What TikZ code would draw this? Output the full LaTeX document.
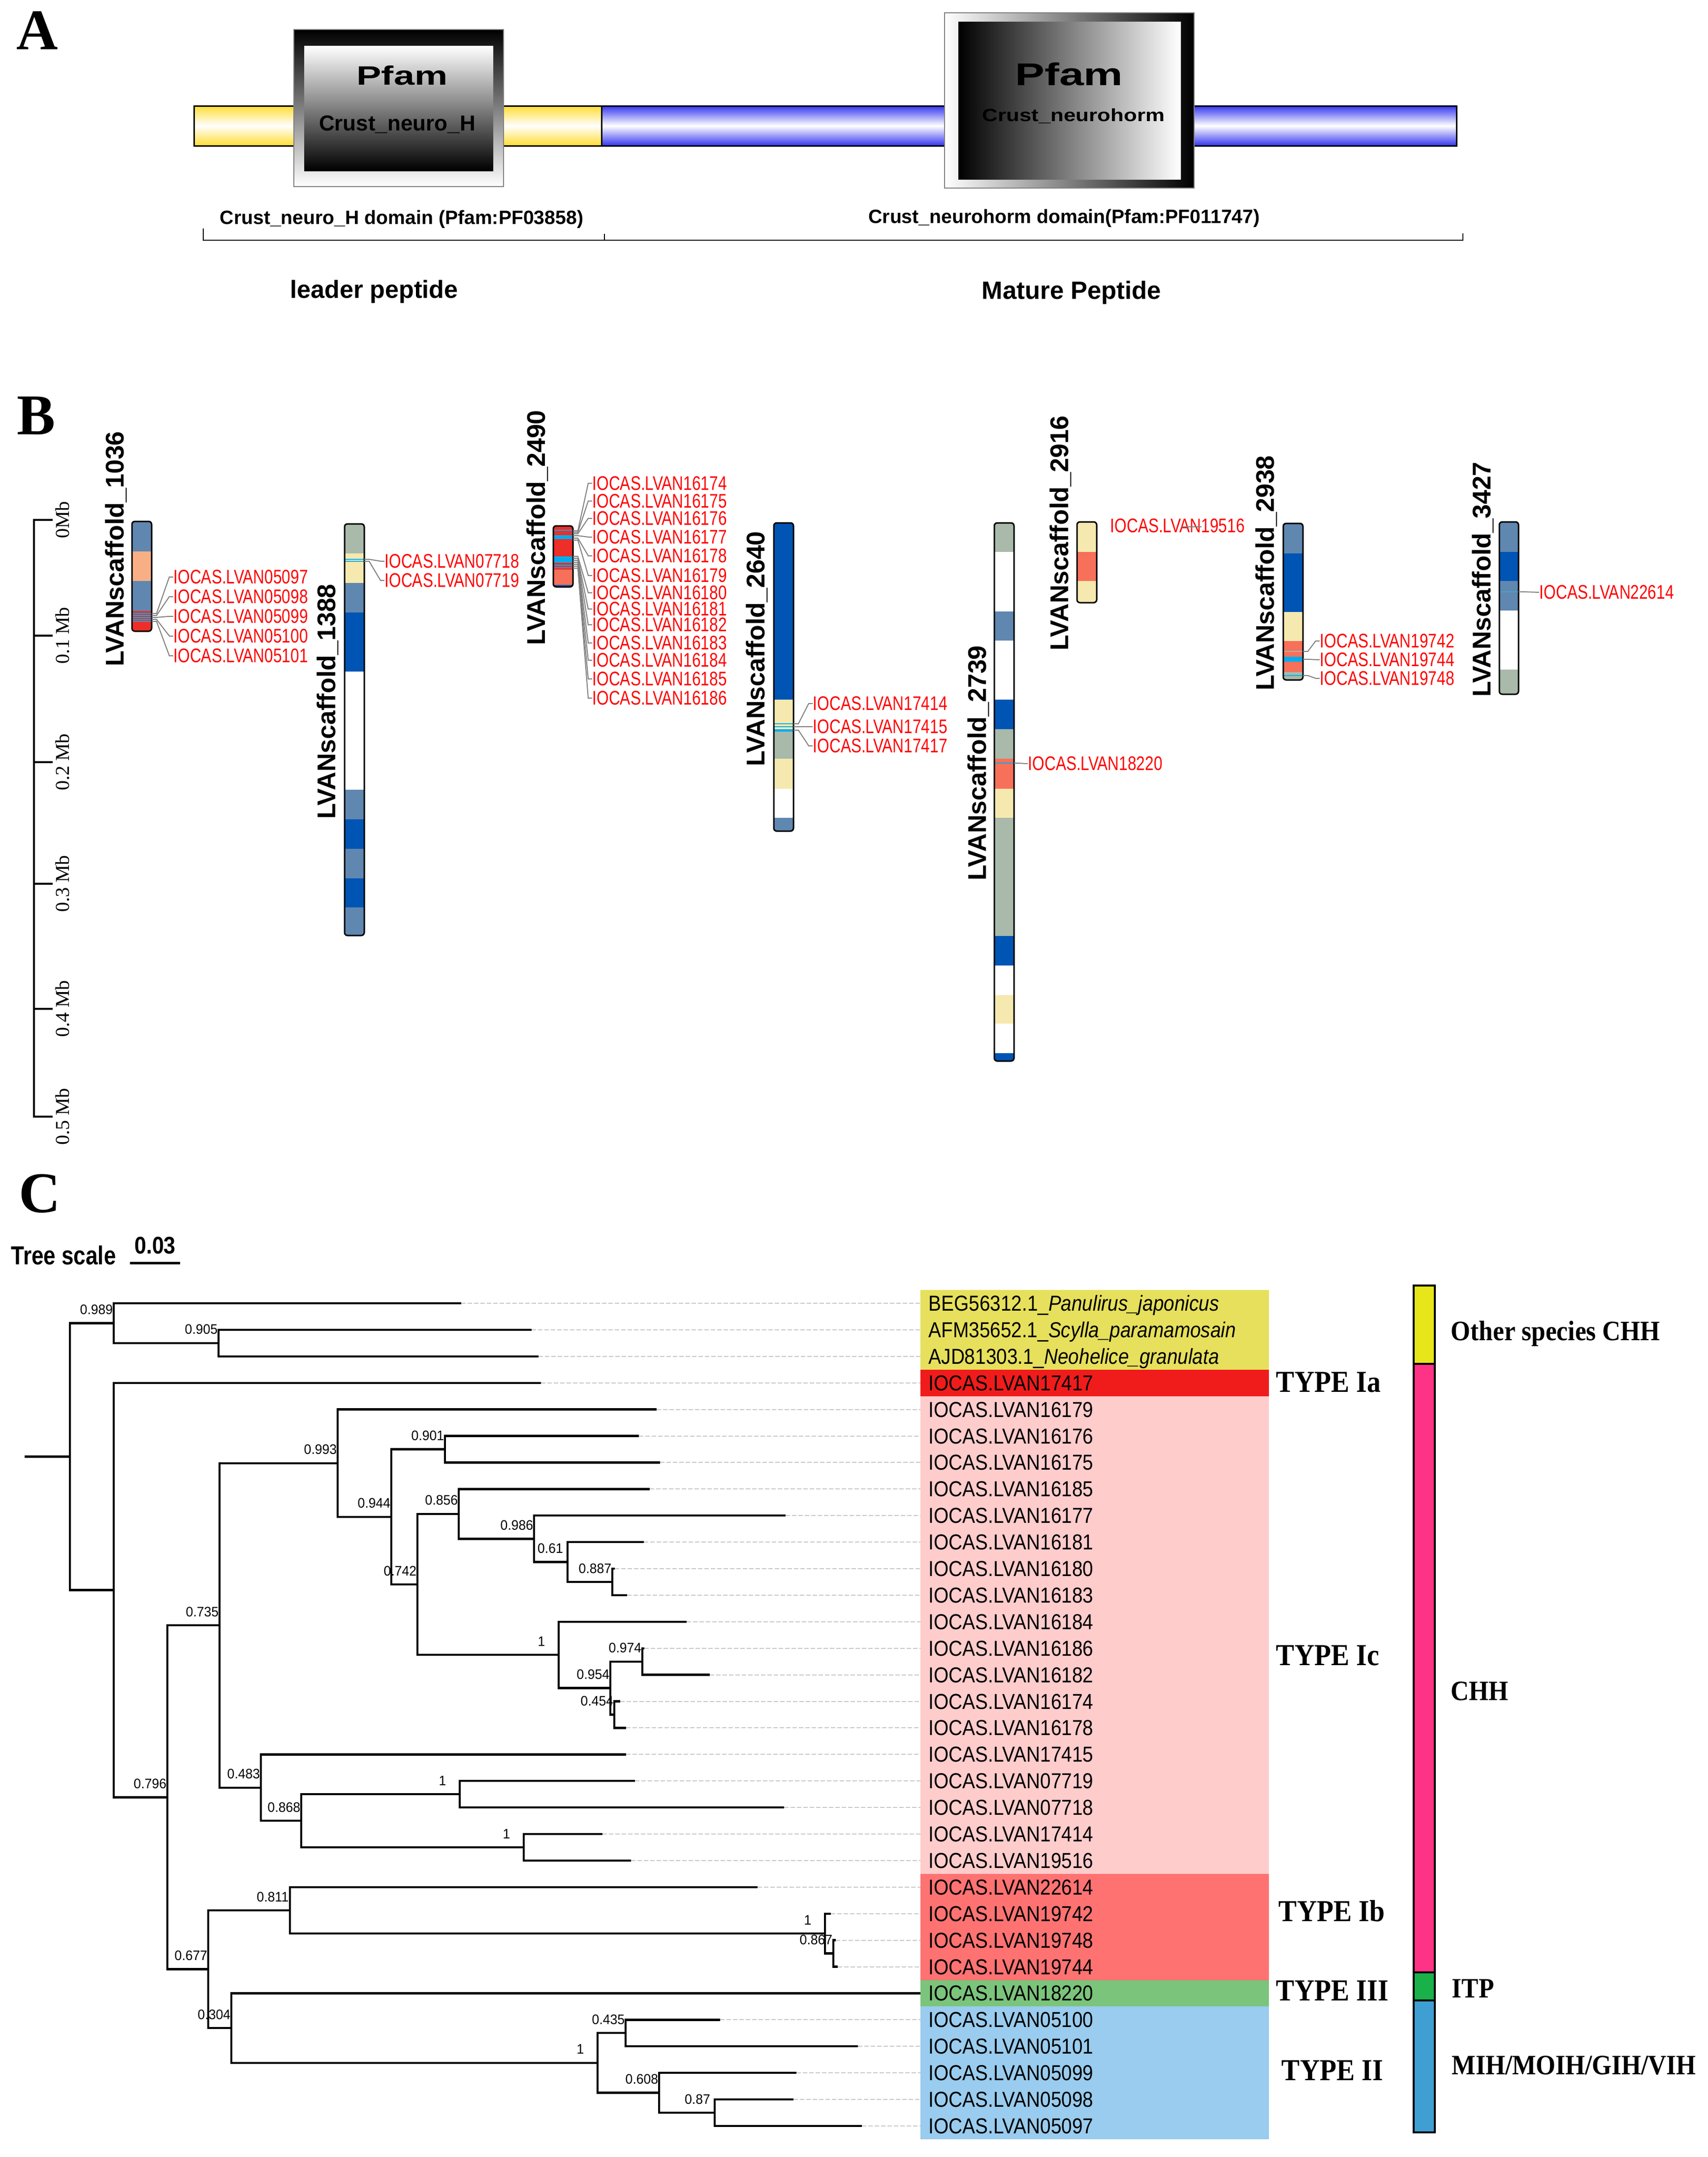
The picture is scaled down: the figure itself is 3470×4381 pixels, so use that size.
\documentclass[tikz,border=0pt]{standalone}
\usepackage{fontspec}
\setmainfont{Liberation Serif}
\newfontfamily\fA{Liberation Sans}
\newfontfamily\fAn[FakeStretch=0.79]{Liberation Sans}
\newfontfamily\fAc[FakeStretch=0.88]{Liberation Sans}
\newfontfamily\fAt[FakeStretch=0.83]{Liberation Sans}
\newfontfamily\fAb[FakeStretch=0.95]{Liberation Sans}
\newfontfamily\fAw[FakeStretch=1.4]{Liberation Sans}
\newfontfamily\fAm[FakeStretch=1.22]{Liberation Sans}
\newfontfamily\fTn[FakeStretch=0.9]{Liberation Serif}
\usetikzlibrary{calc}
\definecolor{steel}{HTML}{5F87B0}
\definecolor{dblue}{HTML}{0055B4}
\definecolor{ggreen}{HTML}{A9B9AA}
\definecolor{pyel}{HTML}{F5E9B0}
\definecolor{lsalm}{HTML}{F9AF86}
\definecolor{bred}{HTML}{EE2E28}
\definecolor{salm}{HTML}{F7705A}
\definecolor{cyel}{HTML}{E6E05C}
\definecolor{cred}{HTML}{F01C1C}
\definecolor{cpink}{HTML}{FFCCCC}
\definecolor{csalm}{HTML}{FF7272}
\definecolor{cgreen}{HTML}{7BC47B}
\definecolor{cblue}{HTML}{99CCEE}
\definecolor{byel}{HTML}{E6E619}
\definecolor{bmag}{HTML}{FF3385}
\definecolor{bgreen}{HTML}{1AB04A}
\definecolor{bblue}{HTML}{3F9FD3}
\definecolor{ayel}{HTML}{FFDD33}
\definecolor{ablue}{HTML}{3535F0}
\definecolor{dashgray}{HTML}{C8C8C8}
\tikzset{
  lettr/.style={anchor=base west,inner sep=0pt,font=\bfseries\fontsize{29.25pt}{30pt}\selectfont},
  redlab/.style={anchor=base west,inner sep=0pt,text=red,font=\fAn\fontsize{10pt}{12pt}\selectfont},
  sctitle/.style={rotate=90,inner sep=0pt,font=\fA\bfseries\fontsize{13pt}{15pt}\selectfont},
  axlab/.style={rotate=90,inner sep=0pt,font=\fontsize{10pt}{12pt}\selectfont},
  conn/.style={draw=gray,line width=0.5pt},
  barout/.style={draw=black,line width=0.75pt,rounded corners=1.5pt},
  br/.style={draw=black,line width=1.1pt,line join=miter},
  dsh/.style={draw=dashgray,line width=0.5pt,dash pattern=on 2.25pt off 1pt},
  bs/.style={anchor=base,inner sep=0pt,font=\fAb\fontsize{7pt}{8pt}\selectfont},
  leaf/.style={anchor=base west,inner sep=0pt,font=\fAc\fontsize{11pt}{13pt}\selectfont},
  typel/.style={anchor=base west,inner sep=0pt,font=\fTn\bfseries\fontsize{15.5pt}{17pt}\selectfont},
  grpl/.style={anchor=base west,inner sep=0pt,font=\fTn\bfseries\fontsize{14.25pt}{16pt}\selectfont},
  segbox/.style={draw=black,line width=1pt}
}
\newcommand\scafbar[5]{%
  \begin{scope}
  \clip[rounded corners=1.5pt] (#1,#3) rectangle (#2,#4);
  \fill[white] (#1,#3) rectangle (#2,#4);
  \foreach \ya/\yb/\cc in {#5} {\fill[fill=\cc] (#1,\ya) rectangle (#2,\yb);}
  \end{scope}}
\newcommand\gline[4]{\fill[fill=cyan] (#1,#3) rectangle (#2,#4);}
\newcommand\gene[5]{%
  \coordinate (g#1) at (#2,#3);
  \node[redlab] (l#1) at (#4,#5+14.5) {IOCAS.LVAN#1};
  \draw[conn] (g#1) -- ++(10,0) -- ($(l#1.west)+(-8,0)$) -- (l#1.west);}
\begin{document}
\begin{tikzpicture}[x=0.25pt,y=-0.25pt]
\useasboundingbox (0,0) rectangle (3470,4381);
% ================= Panel A =================
\node[lettr] (LA) at (33,100) {A};
\draw[line width=0.75pt,top color=ayel,bottom color=ayel,middle color=white] (394,215) rectangle (1222,296);
\draw[line width=0.75pt,top color=ablue,bottom color=ablue,middle color=white] (1222,215) rectangle (2959,296);
% Pfam box 1
\draw[draw=gray,line width=0.4pt,top color=black,bottom color=white] (597,60) rectangle (1023,379);
\shade[top color=white,bottom color=black] (618,93) rectangle (1002,347);
\node[anchor=base,inner sep=0pt,font=\fAw\bfseries\fontsize{13.5pt}{15pt}\selectfont] (pf1) at (817,172) {Pfam};
\node[anchor=base,inner sep=0pt,font=\fA\bfseries\fontsize{11pt}{13pt}\selectfont] (cn1) at (807,265) {Crust\_neuro\_H};
% Pfam box 2
\draw[draw=gray,line width=0.4pt,left color=white,right color=black] (1919,26) rectangle (2426,382);
\shade[left color=black,right color=white] (1947,44) rectangle (2399,364);
\node[anchor=base,inner sep=0pt,font=\fAw\bfseries\fontsize{16pt}{18pt}\selectfont] (pf2) at (2172,173) {Pfam};
\node[anchor=base,inner sep=0pt,font=\fAm\bfseries\fontsize{9pt}{11pt}\selectfont] (cn2) at (2181,246) {Crust\_neurohorm};
% domain texts
\node[anchor=base,inner sep=0pt,font=\fA\bfseries\fontsize{9.8pt}{12pt}\selectfont] (d1) at (816,455) {Crust\_neuro\_H domain (Pfam:PF03858)};
\node[anchor=base,inner sep=0pt,font=\fA\bfseries\fontsize{9.8pt}{12pt}\selectfont] (d2) at (2162,453) {Crust\_neurohorm domain(Pfam:PF011747)};
% bracket
\coordinate (bk1) at (413,464); \coordinate (bk2) at (413,488);
\coordinate (bk3) at (2972,488); \coordinate (bk4) at (2972,474);
\coordinate (bk5) at (1228,475); \coordinate (bk6) at (1228,488);
\draw[line width=0.7pt] (bk1) -- (bk2) -- (bk3) -- (bk4);
\draw[line width=0.5pt] (bk5) -- (bk6);
\node[anchor=base,inner sep=0pt,font=\fA\bfseries\fontsize{12.6pt}{14pt}\selectfont] (lp) at (760,605) {leader peptide};
\node[anchor=base,inner sep=0pt,font=\fA\bfseries\fontsize{12.7pt}{14pt}\selectfont] (mp) at (2177,607) {Mature Peptide};
% ================= Panel B =================
\node[lettr] (LB) at (34,882) {B};
% scale axis
\draw[line width=1pt] (69,1056) -- (69,2268);
\foreach \ty/\tl in {1056/0Mb,1291/0.1 Mb,1548/0.2 Mb,1795/0.3 Mb,2049/0.4 Mb,2268/0.5 Mb}{
  \draw[line width=1pt] (67,\ty) -- (107,\ty);
  \node[axlab] at (127,\ty) {\tl};
}
% scaffold bars
\scafbar{268}{308}{1059}{1282}{1059/1120/steel,1120/1180/lsalm,1180/1241/steel,1241/1282/bred}
\gline{268}{308}{1245.3}{1246.7}\gline{268}{308}{1249.3}{1250.7}\gline{268}{308}{1253.3}{1254.7}\gline{268}{308}{1257.3}{1258.7}\gline{268}{308}{1261.3}{1262.7}
\draw[barout] (268,1059) rectangle (308,1282);
\scafbar{700}{740}{1064}{1900}{1064/1124/ggreen,1124/1184/pyel,1184/1244/steel,1244/1364/dblue,1364/1604/white,1604/1664/steel,1664/1724/dblue,1724/1784/steel,1784/1843/dblue,1843/1900/steel}
\gline{700}{740}{1135.3}{1136.7}\gline{700}{740}{1139.3}{1140.7}
\draw[barout] (700,1064) rectangle (740,1900);
\scafbar{1124}{1164}{1068}{1192}{1068/1157/bred,1157/1188/salm,1188/1192/dblue}
\gline{1124}{1164}{1076}{1078}\gline{1124}{1164}{1087}{1095}\gline{1124}{1164}{1130}{1143}\gline{1124}{1164}{1147}{1149}\gline{1124}{1164}{1152}{1154}
\draw[barout] (1124,1068) rectangle (1164,1192);
\scafbar{1572}{1612}{1062}{1688}{1062/1421/dblue,1421/1485/pyel,1485/1541/ggreen,1541/1602/pyel,1602/1661/white,1661/1688/steel}
\gline{1572}{1612}{1469}{1471}\gline{1572}{1612}{1475}{1477}\gline{1572}{1612}{1481}{1486}
\draw[barout] (1572,1062) rectangle (1612,1688);
\scafbar{2020}{2060}{1062}{2155}{1062/1121/ggreen,1121/1242/white,1242/1301/steel,1301/1421/white,1421/1481/dblue,1481/1541/ggreen,1541/1602/salm,1602/1661/pyel,1661/1901/ggreen,1901/1961/dblue,1961/2021/white,2021/2079/pyel,2079/2139/white,2139/2155/dblue}
\gline{2020}{2060}{1549}{1551}
\draw[barout] (2020,1062) rectangle (2060,2155);
\scafbar{2188}{2228}{1060}{1224}{1060/1121/pyel,1121/1180/salm,1180/1224/pyel}
\draw[barout] (2188,1060) rectangle (2228,1224);
\scafbar{2607}{2647}{1063}{1381}{1063/1124/steel,1124/1243/dblue,1243/1302/pyel,1302/1365/salm,1365/1381/ggreen}
\gline{2607}{2647}{1334}{1344}\gline{2607}{2647}{1371}{1373}
\fill[gray!60] (2607,1322) rectangle (2647,1324);
\draw[barout] (2607,1063) rectangle (2647,1381);
\scafbar{3046}{3085}{1060}{1410}{1060/1121/steel,1121/1180/dblue,1180/1240/steel,1240/1360/white,1360/1410/ggreen}
\fill[cyan!50!steel] (3046,1201) rectangle (3085,1203);
\draw[barout] (3046,1060) rectangle (3085,1410);
% scaffold titles
\node[sctitle] (s1036) at (236,1115) {LVANscaffold\_1036};
\node[sctitle] (s1388) at (666,1425) {LVANscaffold\_1388};
\node[sctitle] (s2490) at (1092,1072) {LVANscaffold\_2490};
\node[sctitle] (s2640) at (1538,1318) {LVANscaffold\_2640};
\node[sctitle] (s2739) at (1988,1550) {LVANscaffold\_2739};
\node[sctitle] (s2916) at (2155,1083) {LVANscaffold\_2916};
\node[sctitle] (s2938) at (2573,1164) {LVANscaffold\_2938};
\node[sctitle] (s3427) at (3013,1177) {LVANscaffold\_3427};
% gene labels and connectors
\gene{05097}{308}{1246}{352}{1171}
\gene{05098}{308}{1250}{352}{1211}
\gene{05099}{308}{1254}{352}{1251}
\gene{05100}{308}{1258}{352}{1291}
\gene{05101}{308}{1262}{352}{1331}
\gene{07718}{740}{1136}{781}{1139}
\gene{07719}{740}{1140}{781}{1178}
\gene{16174}{1164}{1078}{1203}{981}
\gene{16175}{1164}{1081}{1203}{1017}
\gene{16176}{1164}{1084}{1203}{1052}
\gene{16177}{1164}{1088}{1203}{1090}
\gene{16178}{1164}{1093}{1203}{1128}
\gene{16179}{1164}{1097}{1203}{1168}
\gene{16180}{1164}{1130}{1203}{1203}
\gene{16181}{1164}{1134}{1203}{1236}
\gene{16182}{1164}{1138}{1203}{1268}
\gene{16183}{1164}{1142}{1203}{1305}
\gene{16184}{1164}{1146}{1203}{1340}
\gene{16185}{1164}{1150}{1203}{1378}
\gene{16186}{1164}{1154}{1203}{1417}
\gene{17414}{1612}{1470}{1651}{1428}
\gene{17415}{1612}{1476}{1651}{1475}
\gene{17417}{1612}{1483}{1651}{1514}
\gene{18220}{2060}{1550}{2088}{1550}
\gene{19742}{2647}{1323}{2681}{1301}
\gene{19744}{2647}{1339}{2681}{1339}
\gene{19748}{2647}{1372}{2681}{1377}
\gene{22614}{3085}{1202}{3127}{1202}
\node[redlab] (l19516) at (2255,1081.5) {IOCAS.LVAN19516};
\coordinate (st1) at (2400,1070); \coordinate (st2) at (2441,1070);
\draw[conn] (st1) -- (st2);
% ================= Panel C =================
\node[lettr] (LC) at (38,2462) {C};
\node[anchor=base west,inner sep=0pt,font=\fAt\bfseries\fontsize{13.25pt}{15pt}\selectfont] (ts) at (22,2568) {Tree scale};
\node[anchor=base,inner sep=0pt,font=\fAc\bfseries\fontsize{12.25pt}{14pt}\selectfont] (tsv) at (315,2546) {0.03};
\coordinate (sb1) at (264,2565); \coordinate (sb2) at (366,2565);
\draw[line width=1.25pt] (sb1) -- (sb2);
% label backgrounds
\fill[cyel] (1870,2620) rectangle (2578,2781.8);
\fill[cred] (1870,2781.8) rectangle (2578,2835.7);
\fill[cpink] (1870,2835.7) rectangle (2578,3805.9);
\fill[csalm] (1870,3805.9) rectangle (2578,4021.5);
\fill[cgreen] (1870,4021.5) rectangle (2578,4075.4);
\fill[cblue] (1870,4075.4) rectangle (2578,4344.9);
% leaves
\foreach \i/\xe in {0/937,1/1080,2/1094,3/1099,4/1334,5/1298,6/1341,7/1320,8/1596,9/1308,10/1249,11/1274,12/1395,13/1309,14/1442,15/1260,16/1272,17/1272,18/1290,19/1593,20/1224,21/1282,22/1539,23/1688,24/1698,25/1702,26/1870,27/1463,28/1743,29/1618,30/1612,31/1751}{
  \coordinate (L\i) at (\xe,2647+53.9*\i);
  \coordinate (E\i) at (1870,2647+53.9*\i);
}
\foreach \i in {0,...,25,27,28,29,30,31}{\draw[dsh] (L\i) -- (E\i);}
% internal nodes
\coordinate (root) at (142,2958.5); \coordinate (rstub) at (50,2958.5);
\coordinate (n989) at (231,2687.4);
\coordinate (n905) at (444,2727.9);
\coordinate (nIa) at (231,3229.6);
\coordinate (n796) at (340,3650.4);
\coordinate (n735) at (446,3301.2);
\coordinate (n993) at (686,2971.7);
\coordinate (n944) at (795,3080.7);
\coordinate (n901) at (904,2943.5);
\coordinate (n742) at (848,3218);
\coordinate (n856) at (932,3074.8);
\coordinate (n986) at (1085,3125.4);
\coordinate (n61) at (1153,3172.5);
\coordinate (n887) at (1244,3213);
\coordinate (n1a) at (1135,3361.2);
\coordinate (n954) at (1240,3428.6);
\coordinate (n974) at (1305,3374.7);
\coordinate (n454) at (1248,3482.5);
\coordinate (n483) at (530,3630.7);
\coordinate (n868) at (612,3698.1);
\coordinate (n1b) at (934,3644.2);
\coordinate (n1c) at (1064,3752);
\coordinate (n677) at (423,3999.6);
\coordinate (n811) at (589,3880);
\coordinate (n1d) at (1676,3927.1);
\coordinate (n867) at (1693,3967.6);
\coordinate (n304) at (470,4119.1);
\coordinate (n1e) at (1214,4189.9);
\coordinate (n435) at (1271,4129.2);
\coordinate (n608) at (1339,4250.5);
\coordinate (n87) at (1452,4291);
\draw[br] (rstub) -- (root);
\foreach \p/\c in {root/n989,root/nIa,n989/L0,n989/n905,n905/L1,n905/L2,nIa/L3,nIa/n796,
  n796/n735,n796/n677,n735/n993,n735/n483,n993/L4,n993/n944,n944/n901,n944/n742,n901/L5,n901/L6,
  n742/n856,n742/n1a,n856/L7,n856/n986,n986/L8,n986/n61,n61/L9,n61/n887,n887/L10,n887/L11,
  n1a/L12,n1a/n954,n954/n974,n954/n454,n974/L13,n974/L14,n454/L15,n454/L16,
  n483/L17,n483/n868,n868/n1b,n868/n1c,n1b/L18,n1b/L19,n1c/L20,n1c/L21,
  n677/n811,n677/n304,n811/L22,n811/n1d,n1d/L23,n1d/n867,n867/L24,n867/L25,
  n304/L26,n304/n1e,n1e/n435,n1e/n608,n435/L27,n435/L28,n608/L29,n608/n87,n87/L30,n87/L31}{
  \draw[br] (\p) |- (\c);
}
% bootstrap labels
\foreach \n/\v in {n989/0.989,n905/0.905,n993/0.993,n944/0.944,n901/0.901,n742/0.742,n856/0.856,n986/0.986,n61/0.61,n887/0.887,n1a/1,n954/0.954,n974/0.974,n454/0.454,n735/0.735,n483/0.483,n868/0.868,n1b/1,n1c/1,n796/0.796,n677/0.677,n811/0.811,n1d/1,n867/0.867,n304/0.304,n1e/1,n435/0.435,n608/0.608,n87/0.87}{
  \node[bs] at ($(\n)+(-35,-18)$) {\v};
}
% leaf labels
\node[leaf] (T0) at (1886,2647+15.5) {BEG56312.1\_\textit{Panulirus\_japonicus}};
\node[leaf] (T1) at (1886,2647+53.9+15.5) {AFM35652.1\_\textit{Scylla\_paramamosain}};
\node[leaf] (T2) at (1886,2647+107.8+15.5) {AJD81303.1\_\textit{Neohelice\_granulata}};
\foreach \i/\t in {3/17417,4/16179,5/16176,6/16175,7/16185,8/16177,9/16181,10/16180,11/16183,12/16184,13/16186,14/16182,15/16174,16/16178,17/17415,18/07719,19/07718,20/17414,21/19516,22/22614,23/19742,24/19748,25/19744,26/18220,27/05100,28/05101,29/05099,30/05098,31/05097}{
  \node[leaf] (T\i) at (1886,2647+53.9*\i+15.5) {IOCAS.LVAN\t};
}
% type labels
\node[typel] (ty1) at (2592,2827) {TYPE Ia};
\node[typel] (ty2) at (2592,3382) {TYPE Ic};
\node[typel] (ty3) at (2597,3902) {TYPE Ib};
\node[typel] (ty4) at (2592,4063) {TYPE III};
\node[typel] (ty5) at (2603,4225) {TYPE II};
% right group bar
\draw[segbox,fill=byel] (2872,2611) rectangle (2915,2770);
\draw[segbox,fill=bmag] (2872,2770) rectangle (2915,4006);
\draw[segbox,fill=bgreen] (2872,4006) rectangle (2915,4063);
\draw[segbox,fill=bblue] (2872,4063) rectangle (2915,4331);
\node[grpl] (g1) at (2947,2722) {Other species CHH};
\node[grpl] (g2) at (2947,3453) {CHH};
\node[grpl] (g3) at (2949,4057) {ITP};
\node[grpl] (g4) at (2949,4213) {MIH/MOIH/GIH/VIH};
\end{tikzpicture}
\end{document}
